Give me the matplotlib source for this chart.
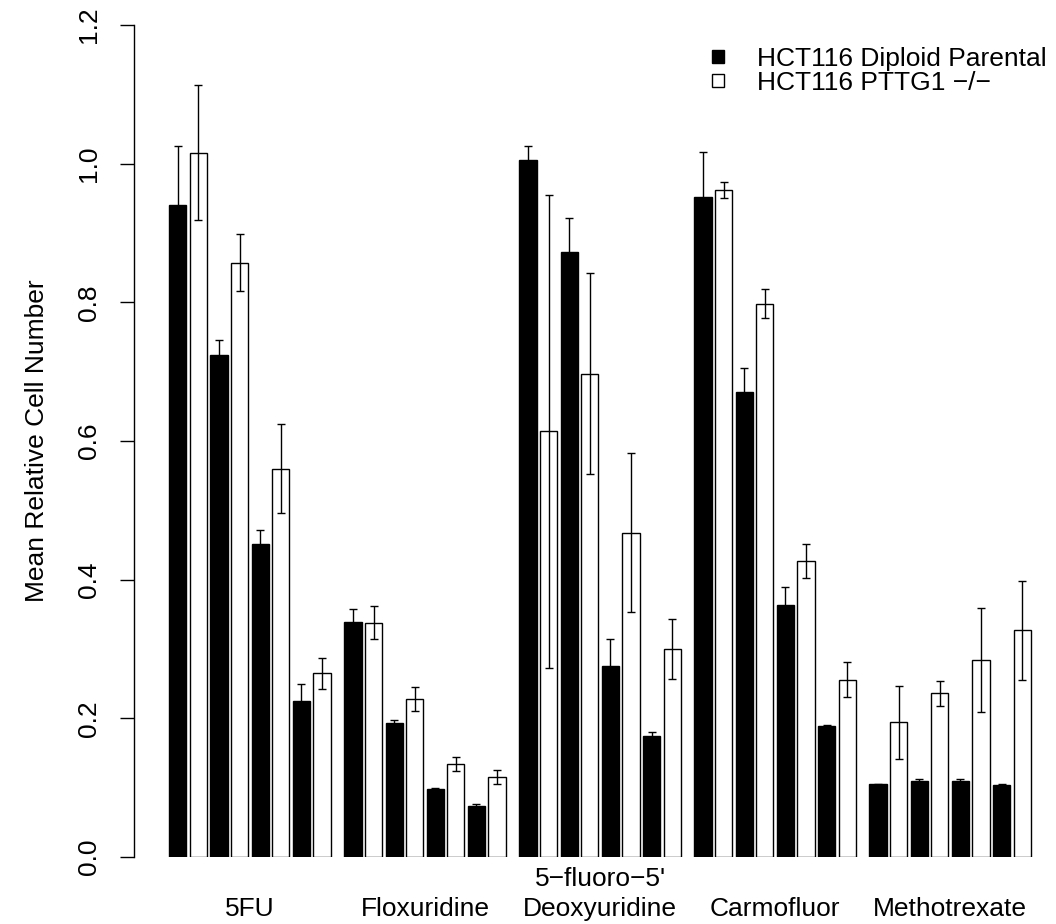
import matplotlib.pyplot as plt
import numpy as np
from matplotlib.patches import Patch

plt.rcParams["font.family"] = ["Liberation Sans", "DejaVu Sans"]

drugs = ["5FU", "Floxuridine", "5\u2212fluoro\u22125'\nDeoxyuridine", "Carmofluor", "Methotrexate"]
series = ["HCT116 Diploid Parental", "HCT116 PTTG1 \u2212/\u2212"]

# four doses per drug, lowest dose first
parental_mean = [
    [0.940, 0.724, 0.451, 0.225],
    [0.339, 0.193, 0.098, 0.073],
    [1.005, 0.872, 0.276, 0.175],
    [0.952, 0.671, 0.364, 0.189],
    [0.105, 0.109, 0.109, 0.104],
]
parental_sem = [
    [0.086, 0.021, 0.021, 0.025],
    [0.019, 0.004, 0.001, 0.003],
    [0.020, 0.050, 0.038, 0.005],
    [0.065, 0.034, 0.026, 0.001],
    [0.001, 0.003, 0.004, 0.001],
]
knockout_mean = [
    [1.016, 0.857, 0.560, 0.265],
    [0.338, 0.228, 0.134, 0.115],
    [0.614, 0.697, 0.468, 0.300],
    [0.962, 0.798, 0.427, 0.256],
    [0.194, 0.236, 0.284, 0.327],
]
knockout_sem = [
    [0.097, 0.041, 0.064, 0.022],
    [0.024, 0.017, 0.010, 0.010],
    [0.341, 0.145, 0.114, 0.043],
    [0.012, 0.021, 0.025, 0.025],
    [0.052, 0.018, 0.075, 0.071],
]

# barplot layout: 0.2 bar widths between bars, 0.8 between drugs
n_dose = 4
group_step = 2 * n_dose + (2 * n_dose - 1) * 0.2 + 0.8
centers = []
for g in range(len(drugs)):
    start = g * group_step + 0.8
    centers.append([start + k * 1.2 + 0.5 for k in range(2 * n_dose)])
centers = np.array(centers)
x_par = centers[:, 0::2].ravel()
x_ko = centers[:, 1::2].ravel()

fig = plt.figure(figsize=(10.56, 9.24), dpi=100)
ax = fig.add_axes([134 / 1056, 67 / 924, 922 / 1056, 832 / 924])

ax.bar(x_par, np.ravel(parental_mean), width=1.0, color="black",
       edgecolor="black", linewidth=1.0)
ax.bar(x_ko, np.ravel(knockout_mean), width=1.0, color="white",
       edgecolor="black", linewidth=1.0)
ax.errorbar(x_par, np.ravel(parental_mean), yerr=np.ravel(parental_sem),
            fmt="none", ecolor="black", elinewidth=1.0, capsize=3.1,
            capthick=1.0)
ax.errorbar(x_ko, np.ravel(knockout_mean), yerr=np.ravel(knockout_sem),
            fmt="none", ecolor="black", elinewidth=1.0, capsize=3.1,
            capthick=1.0)

ax.set_xlim(-1.257, 52.47)
ax.set_ylim(0, 1.2)
for side in ["top", "right", "bottom"]:
    ax.spines[side].set_visible(False)
ax.spines["left"].set_linewidth(1.0)

yt = np.arange(0, 1.21, 0.2)
ax.set_yticks(yt, [f"{v:.1f}" for v in yt])
ax.tick_params(axis="y", length=10, width=1.0, pad=14, labelsize=19)
for lbl in ax.get_yticklabels():
    lbl.set_rotation(90)
    lbl.set_va("center")
ax.set_ylabel("Mean Relative Cell Number", fontsize=19, labelpad=20)

ax.set_xticks(centers.mean(axis=1), drugs)
ax.tick_params(axis="x", length=0, pad=46, labelsize=19)
for lbl in ax.get_xticklabels():
    lbl.set_va("bottom")
    lbl.set_linespacing(1.3)

handles = [Patch(facecolor="black", edgecolor="black", linewidth=1.0),
           Patch(facecolor="white", edgecolor="black", linewidth=1.0)]
ax.legend(handles, series, loc="upper left", frameon=False, fontsize=19,
          bbox_to_anchor=(711.7 / 1056, 1 - 47 / 924),
          bbox_transform=fig.transFigure, borderpad=0, borderaxespad=0,
          handlelength=0.45, handleheight=0.38, handletextpad=1.27,
          labelspacing=0.0)

fig.savefig("out.png", dpi=100)
